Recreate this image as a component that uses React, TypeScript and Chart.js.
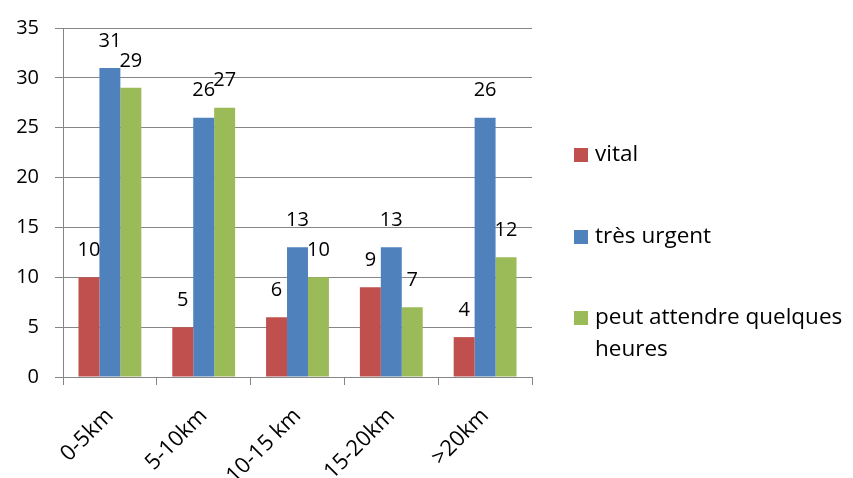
import React, { useEffect, useRef } from "react";
import { Chart, registerables } from "chart.js";

Chart.register(...registerables);

const categories = ["0-5km", "5-10km", "10-15 km", "15-20km", ">20km"];
const vital = [10, 5, 6, 9, 4];
const tresUrgent = [31, 26, 13, 13, 26];
const peutAttendre = [29, 27, 10, 7, 12];
const seriesLabels = ["vital", "très urgent", ["peut attendre quelques", "heures"]];
const yTicks = [0, 5, 10, 15, 20, 25, 30, 35];

const FONT = "'Open Sans', Lato, sans-serif";
const GRID = "#868686";

const dataLabelPlugin = {
  id: "dataLabels",
  afterDatasetsDraw(chart: any) {
    const ctx = chart.ctx;
    ctx.save();
    ctx.font = `20px ${FONT}`;
    ctx.fillStyle = "#000";
    ctx.textAlign = "center";
    ctx.textBaseline = "middle";
    chart.data.datasets.forEach((ds: any, i: number) => {
      const meta = chart.getDatasetMeta(i);
      meta.data.forEach((bar: any, j: number) => {
        ctx.fillText(String(ds.data[j]), bar.x, bar.y - 27);
      });
    });
    ctx.restore();
  },
};

const legendPlugin = {
  id: "customLegend",
  afterDraw(chart: any) {
    const ctx = chart.ctx;
    ctx.save();
    ctx.font = `22.5px ${FONT}`;
    ctx.textBaseline = "middle";
    ctx.textAlign = "left";
    const ys = [155, 237, 318];
    chart.data.datasets.forEach((ds: any, i: number) => {
      const y = ys[i];
      ctx.fillStyle = ds.backgroundColor;
      ctx.fillRect(574, y - 7, 14, 14);
      ctx.fillStyle = "#000";
      const lines = Array.isArray(ds.legendText) ? ds.legendText : [ds.legendText];
      lines.forEach((t: string, k: number) => {
        ctx.fillText(t, 595, y + k * 32);
      });
    });
    ctx.restore();
  },
};

export default function App() {
  const ref = useRef<HTMLCanvasElement>(null);
  useEffect(() => {
    document.body.style.margin = "0";
    const chart = new Chart(ref.current!, {
      type: "bar",
      data: {
        labels: categories,
        datasets: [
          { label: "vital", legendText: seriesLabels[0], data: vital, backgroundColor: "#C0504D" } as any,
          { label: "très urgent", legendText: seriesLabels[1], data: tresUrgent, backgroundColor: "#4F81BD" } as any,
          { label: "peut attendre quelques heures", legendText: seriesLabels[2], data: peutAttendre, backgroundColor: "#9BBB59" } as any,
        ],
      },
      options: {
        animation: false,
        responsive: false,
        maintainAspectRatio: false,
        layout: { padding: { top: 27, right: 321, left: 0, bottom: 0 } },
        plugins: { legend: { display: false }, tooltip: { enabled: false } },
        datasets: { bar: { categoryPercentage: 0.67, barPercentage: 1 } },
        scales: {
          x: {
            grid: { offset: true, drawOnChartArea: false, drawTicks: true, tickLength: 8, color: GRID },
            border: { color: GRID, width: 1 },
            ticks: { color: "#000", font: { family: FONT, size: 22 }, maxRotation: 45, minRotation: 45, padding: 18 },
            afterFit(scale: any) { scale.height = 101; },
          },
          y: {
            min: 0,
            max: 35,
            afterBuildTicks(scale: any) { scale.ticks = yTicks.map((v) => ({ value: v })); },
            grid: { color: GRID, tickLength: 8, drawTicks: true },
            border: { color: GRID, width: 1 },
            ticks: { color: "#000", font: { family: FONT, size: 20 }, padding: 16 },
            afterFit(scale: any) { scale.width = 63; },
          },
        },
      },
      plugins: [dataLabelPlugin, legendPlugin],
    });
    return () => chart.destroy();
  }, []);
  return (
    <div style={{ width: 853, height: 478, background: "#fff" }}>
      <canvas ref={ref} width={853} height={478} style={{ display: "block" }} />
    </div>
  );
}
